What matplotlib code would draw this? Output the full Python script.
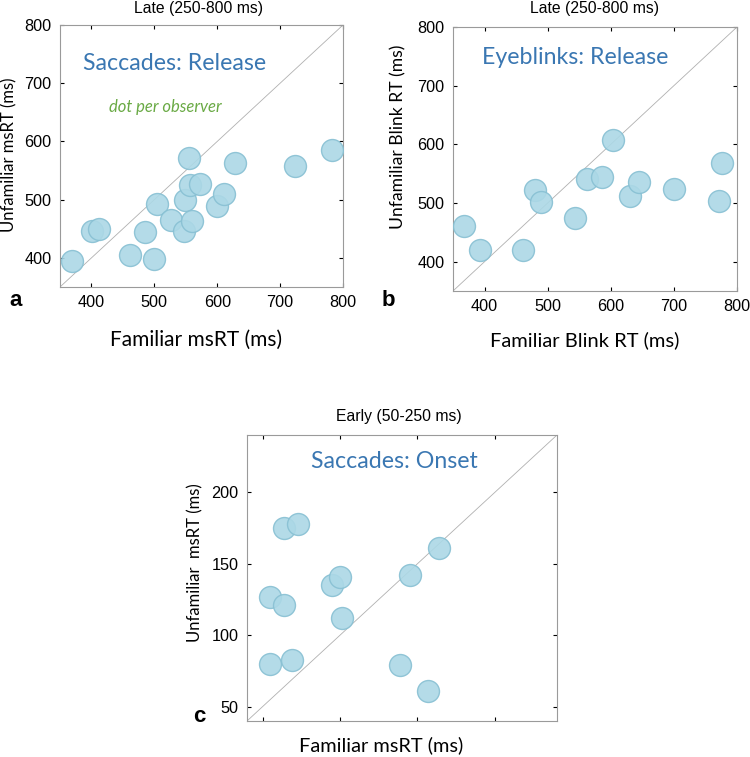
import matplotlib
matplotlib.use("Agg")
import matplotlib.pyplot as plt

# panel a: saccades release (late window)
sacc_rel_fam = [369, 401, 412, 462, 485, 499, 504, 526, 547, 548, 555, 557, 573, 560, 600, 611, 628, 723, 783]
sacc_rel_unf = [395, 447, 450, 405, 445, 398, 493, 465, 447, 499, 571, 525, 527, 464, 489, 510, 563, 557, 586]

# panel b: eyeblinks release (late window)
blink_fam = [367, 392, 461, 480, 490, 543, 563, 586, 604, 630, 644, 700, 771, 777]
blink_unf = [460, 420, 420, 522, 502, 474, 541, 545, 607, 512, 536, 524, 504, 568]

# panel c: saccades onset (early window)
sacc_on_fam = [55, 55, 64, 73, 64, 69, 95, 100, 101, 145, 139, 157, 164]
sacc_on_unf = [80, 127, 175, 178, 121, 83, 135, 141, 112, 142, 79, 61, 161]

late_ticks = [400, 500, 600, 700, 800]
early_ticks = [50, 100, 150, 200]

W, H = 750, 757
TXT = "Liberation Sans"
CAL = "Lato"
BLUE = "#3a77b2"
GREEN = "#6aaa45"
FACE = "#acd8e6"
EDGE = "#88c0d3"

plt.rcParams["font.family"] = [TXT, "DejaVu Sans"]


def px_ax(fig, x0, y0, x1, y1):
    return fig.add_axes([x0 / W, 1 - y1 / H, (x1 - x0) / W, (y1 - y0) / H])


def style(ax, lo, hi, ticks, xlabels=True):
    ax.set_xlim(lo, hi)
    ax.set_ylim(lo, hi)
    ax.plot([lo, hi], [lo, hi], color="#b0b0b0", lw=0.6, zorder=1)
    ax.set_xticks(ticks)
    ax.set_yticks(ticks)
    if not xlabels:
        ax.set_xticklabels([])
    ax.tick_params(direction="in", length=3, width=0.8, top=True, right=True,
                   labelsize=11.7, pad=6, colors="black")
    for sp in ax.spines.values():
        sp.set_color("#9a9a9a")
        sp.set_linewidth(0.8)


def dots(ax, x, y):
    ax.scatter(x, y, s=250, facecolor=FACE, edgecolor=EDGE, linewidth=1.0,
               alpha=0.9, zorder=3)


fig = plt.figure(figsize=(7.5, 7.57), dpi=100)

ax_a = px_ax(fig, 60, 25, 343, 287)
dots(ax_a, sacc_rel_fam, sacc_rel_unf)
style(ax_a, 350, 800, late_ticks)

ax_b = px_ax(fig, 453, 27, 737, 291)
dots(ax_b, blink_fam, blink_unf)
style(ax_b, 350, 800, late_ticks)

ax_c = px_ax(fig, 247, 435, 557, 721)
dots(ax_c, sacc_on_fam, sacc_on_unf)
style(ax_c, 40, 240, early_ticks, xlabels=False)


def ftext(x, y, s, **kw):
    fig.text(x / W, 1 - y / H, s, ha="center", va="center", **kw)


# window titles
ftext(199, 8, "Late (250-800 ms)", fontsize=11.3)
ftext(594, 8, "Late (250-800 ms)", fontsize=11.3)
ftext(399, 417, "Early (50-250 ms)", fontsize=11.3)

# in-panel labels
ftext(175, 63, "Saccades: Release", fontsize=16.7, family=CAL, color=BLUE)
ftext(165, 107, "dot per observer", fontsize=12, family=CAL, color=GREEN, style="italic")
ftext(575, 57, "Eyeblinks: Release", fontsize=16.7, family=CAL, color=BLUE)
ftext(394, 462, "Saccades: Onset", fontsize=16.7, family=CAL, color=BLUE)

# axis labels
ftext(196, 340, "Familiar msRT (ms)", fontsize=15, family=CAL)
ftext(585, 340, "Familiar Blink RT (ms)", fontsize=14.5, family=CAL)
ftext(381, 745, "Familiar msRT (ms)", fontsize=14.4, family=CAL)
ftext(9, 155, "Unfamiliar msRT (ms)", fontsize=12, family=CAL, rotation=90)
ftext(398, 137, "Unfamiliar Blink RT (ms)", fontsize=12.6, family=CAL, rotation=90)
ftext(195, 563, "Unfamiliar  msRT (ms)", fontsize=12, family=CAL, rotation=90)

# panel letters
ftext(16, 300, "a", fontsize=16, weight="bold")
ftext(388, 300, "b", fontsize=16, weight="bold")
ftext(199, 717, "c", fontsize=16, weight="bold")

fig.savefig("out.png", dpi=100)
